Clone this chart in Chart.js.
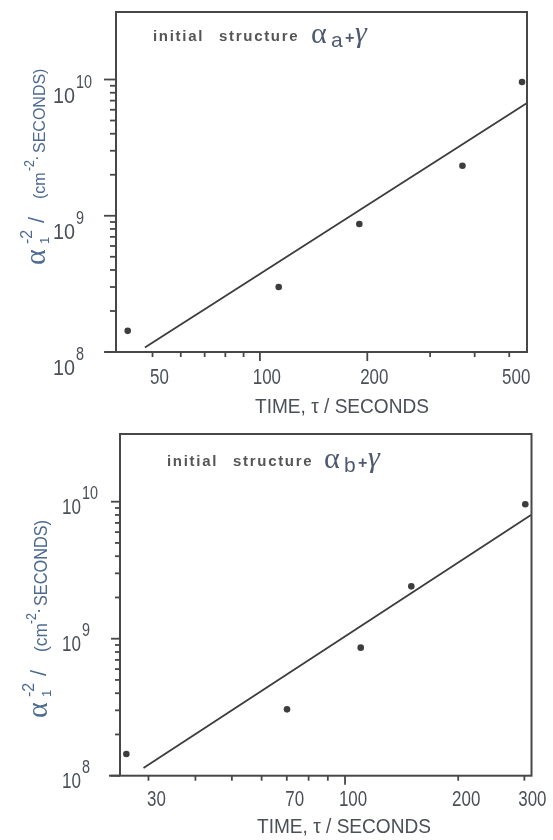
<!DOCTYPE html>
<html>
<head>
<meta charset="utf-8">
<script src="https://cdn.jsdelivr.net/npm/chart.js@4.4.1/dist/chart.umd.min.js"></script>
<style>
  body { margin: 0; background: #fff; }
  canvas { display: block; }
</style>
</head>
<body>
<canvas id="graficoA" width="553" height="420"></canvas>
<canvas id="graficoB" width="553" height="420"></canvas>
<script>
// painel de cima: estrutura inicial alpha_a + gamma
const tempoA = [42.6, 112.9, 190, 369.6, 543];
const valorA = [1.43e8, 3.0e8, 8.7e8, 2.33e9, 9.6e9];
const retaTempoA = [47.6, 558];
const retaValorA = [1.08e8, 6.67e9];
const rotulosXA = [50, 100, 200, 500];
const menoresXA = [60, 70, 80, 90, 300, 400];

// painel de baixo: estrutura inicial alpha_b + gamma
const tempoB = [26.2, 70.1, 110.1, 150.1, 301.7];
const valorB = [1.44e8, 3.05e8, 8.6e8, 2.41e9, 9.57e9];
const retaTempoB = [29.1, 312.4];
const retaValorB = [1.14e8, 8.0e9];
const rotulosXB = [30, 70, 100, 200, 300];
const menoresXB = [40, 50, 60, 80, 90];

// eixo y (igual nos dois)
const expoentesY = [8, 9, 10];
const menoresY = [2e8, 3e8, 4e8, 5e8, 6e8, 7e8, 8e8, 9e8, 2e9, 3e9, 4e9, 5e9, 6e9, 7e9, 8e9, 9e9];

const corEixo = "#474747";
const corTexto = "#4b5058";
const corTituloY = "#4d6a92";

// escreve texto "estreito" (comprimido na horizontal)
function textoEstreito(ctx, txt, x, y, fator) {
    const w = ctx.measureText(txt).width;
    ctx.fillText(txt, x, y, w * fator);
}

const painelPlugin = {
    id: "painel",
    afterDraw(chart, args, o) {
        const ctx = chart.ctx;
        const a = chart.chartArea;
        const sx = chart.scales.x;
        const sy = chart.scales.y;
        ctx.save();

        // moldura
        ctx.strokeStyle = corEixo;
        ctx.lineWidth = 2;
        ctx.strokeRect(a.left, a.top, a.right - a.left, a.bottom - a.top);
        ctx.beginPath();
        ctx.moveTo(o.inicioEixoX, a.bottom);
        ctx.lineTo(a.left, a.bottom);
        ctx.stroke();

        // marcas do eixo x
        ctx.lineWidth = 1.8;
        o.rotulosX.concat(o.menoresX).forEach((v) => {
            const px = sx.getPixelForValue(v);
            const len = o.longosX.includes(v) ? 9 : 5;
            ctx.beginPath();
            ctx.moveTo(px, a.bottom);
            ctx.lineTo(px, a.bottom + len);
            ctx.stroke();
        });

        // marcas do eixo y
        expoentesY.forEach((e) => {
            const py = sy.getPixelForValue(Math.pow(10, e));
            ctx.beginPath();
            ctx.moveTo(a.left, py);
            ctx.lineTo(a.left - o.tickMaiorY, py);
            ctx.stroke();
        });
        menoresY.forEach((v) => {
            const py = sy.getPixelForValue(v);
            ctx.beginPath();
            ctx.moveTo(a.left, py);
            ctx.lineTo(a.left - o.tickMenorY, py);
            ctx.stroke();
        });

        // rótulos do eixo x
        ctx.fillStyle = corTexto;
        ctx.textBaseline = "alphabetic";
        ctx.textAlign = "center";
        ctx.font = '22px "Liberation Sans", Arial, sans-serif';
        o.rotulosX.forEach((v) => {
            const px = sx.getPixelForValue(v) + o.deslocRotuloX;
            textoEstreito(ctx, String(v), px, a.bottom + o.baseRotuloX, 0.77);
        });

        // rótulos do eixo y: 10 com expoente
        expoentesY.forEach((e) => {
            const py = sy.getPixelForValue(Math.pow(10, e));
            ctx.font = '22px "Liberation Sans", Arial, sans-serif';
            ctx.textAlign = "right";
            ctx.fillText("10", o.direitaBaseY, py + o.baseY, o.larguraBaseY);
            ctx.font = '18px "Liberation Sans", Arial, sans-serif';
            ctx.textAlign = "left";
            textoEstreito(ctx, String(e), o.direitaBaseY + 1, py + o.supY, 0.8);
        });

        // título do eixo x
        ctx.font = '21px "Liberation Sans", Arial, sans-serif';
        ctx.textAlign = "center";
        ctx.fillText("TIME, \u03c4 / SECONDS", o.centroTituloX, 413, 174);

        // título do eixo y (girado)
        ctx.save();
        ctx.translate(o.baseTituloY, o.inicioTituloY);
        ctx.rotate(-Math.PI / 2);
        ctx.fillStyle = corTituloY;
        ctx.textAlign = "left";
        ctx.font = '30px "Liberation Serif", serif';
        ctx.fillText("\u03b1", 0, 0, 20);
        ctx.font = '13px "Liberation Sans", sans-serif';
        ctx.fillText("1", 21, 4);
        ctx.font = '16px "Liberation Sans", sans-serif';
        ctx.fillText("-2", 21, -13);
        ctx.font = '22px "Liberation Sans", sans-serif';
        ctx.fillText("/", 42, -1);
        ctx.font = o.fonteTituloY;
        ctx.fillText("(cm", 66, 0, 29);
        ctx.font = '14px "Liberation Sans", sans-serif';
        ctx.fillText("-2", 94, -11, 11);
        ctx.font = o.fonteTituloY;
        ctx.fillText("\u00b7", 104, -3);
        ctx.fillText("SECONDS)", 112, 0, o.larguraSeconds);
        ctx.restore();

        // título interno do painel
        ctx.textAlign = "left";
        ctx.fillStyle = "#555";
        ctx.font = 'bold 15px "Liberation Sans", Arial, sans-serif';
        ctx.letterSpacing = "1.7px";
        ctx.fillText("initial", o.xInitial, o.baseTitulo);
        ctx.fillText("structure", o.xStructure, o.baseTitulo);
        ctx.letterSpacing = "0px";
        ctx.fillStyle = "#4e5870";
        ctx.font = '30px "Liberation Serif", serif';
        ctx.fillText("\u03b1", o.xAlfa, o.baseTitulo + 2, 20);
        ctx.font = '21px "Liberation Sans", Arial, sans-serif';
        ctx.fillText(o.indice, o.xAlfa + 20, o.baseTitulo + 6);
        ctx.font = 'bold 16px "Liberation Sans", Arial, sans-serif';
        ctx.fillText("+", o.xAlfa + 34, o.baseTitulo + 2);
        ctx.font = 'italic 30px "Liberation Serif", serif';
        ctx.fillText("\u03b3", o.xAlfa + 44, o.baseTitulo + 1);

        ctx.restore();
    }
};

function criarGrafico(id, tempos, valores, retaT, retaV, xmin, xmax, ymax, padding, painel) {
    const pontos = tempos.map((t, i) => ({ x: t, y: valores[i] }));
    const reta = retaT.map((t, i) => ({ x: t, y: retaV[i] }));
    return new Chart(document.getElementById(id), {
        type: "scatter",
        data: {
            datasets: [
                {
                    data: reta,
                    showLine: true,
                    borderColor: "#3c3c3c",
                    borderWidth: 1.8,
                    pointRadius: 0,
                },
                {
                    data: pontos,
                    backgroundColor: "#3d3d3d",
                    borderWidth: 0,
                    pointRadius: 3.3,
                },
            ],
        },
        options: {
            responsive: false,
            animation: false,
            layout: { padding: padding },
            plugins: {
                legend: { display: false },
                tooltip: { enabled: false },
                painel: painel,
            },
            scales: {
                x: { type: "logarithmic", display: false, min: xmin, max: xmax, bounds: "data" },
                y: { type: "logarithmic", display: false, min: 1e8, max: ymax, bounds: "data" },
            },
        },
        plugins: [painelPlugin],
    });
}

criarGrafico("graficoA", tempoA, valorA, retaTempoA, retaValorA, 39.5, 560.7, 3.13e10,
    { left: 116, right: 26, top: 12, bottom: 68 },
    {
        rotulosX: rotulosXA, menoresX: menoresXA, longosX: [100, 200],
        inicioEixoX: 105, tickMaiorY: 12, tickMenorY: 6,
        deslocRotuloX: 7, baseRotuloX: 32,
        direitaBaseY: 75, larguraBaseY: 22, baseY: 23, supY: 8,
        centroTituloX: 342,
        baseTituloY: 45, inicioTituloY: 265,
        fonteTituloY: '16px "Liberation Sans", sans-serif', larguraSeconds: 90,
        xInitial: 153, xStructure: 219, xAlfa: 311, baseTitulo: 41, indice: "a",
    });

criarGrafico("graficoB", tempoB, valorB, retaTempoB, retaValorB, 25.2, 313.4, 3.12e10,
    { left: 120, right: 21.5, top: 14, bottom: 64.3 },
    {
        rotulosX: rotulosXB, menoresX: menoresXB, longosX: [100],
        inicioEixoX: 109, tickMaiorY: 9, tickMenorY: 5,
        deslocRotuloX: 8, baseRotuloX: 30,
        direitaBaseY: 81, larguraBaseY: 19, baseY: 12, supY: -3,
        centroTituloX: 344,
        baseTituloY: 47, inicioTituloY: 298,
        fonteTituloY: '19px "Liberation Sans", sans-serif', larguraSeconds: 86,
        xInitial: 167, xStructure: 233, xAlfa: 324, baseTitulo: 46, indice: "b",
    });
</script>
</body>
</html>
